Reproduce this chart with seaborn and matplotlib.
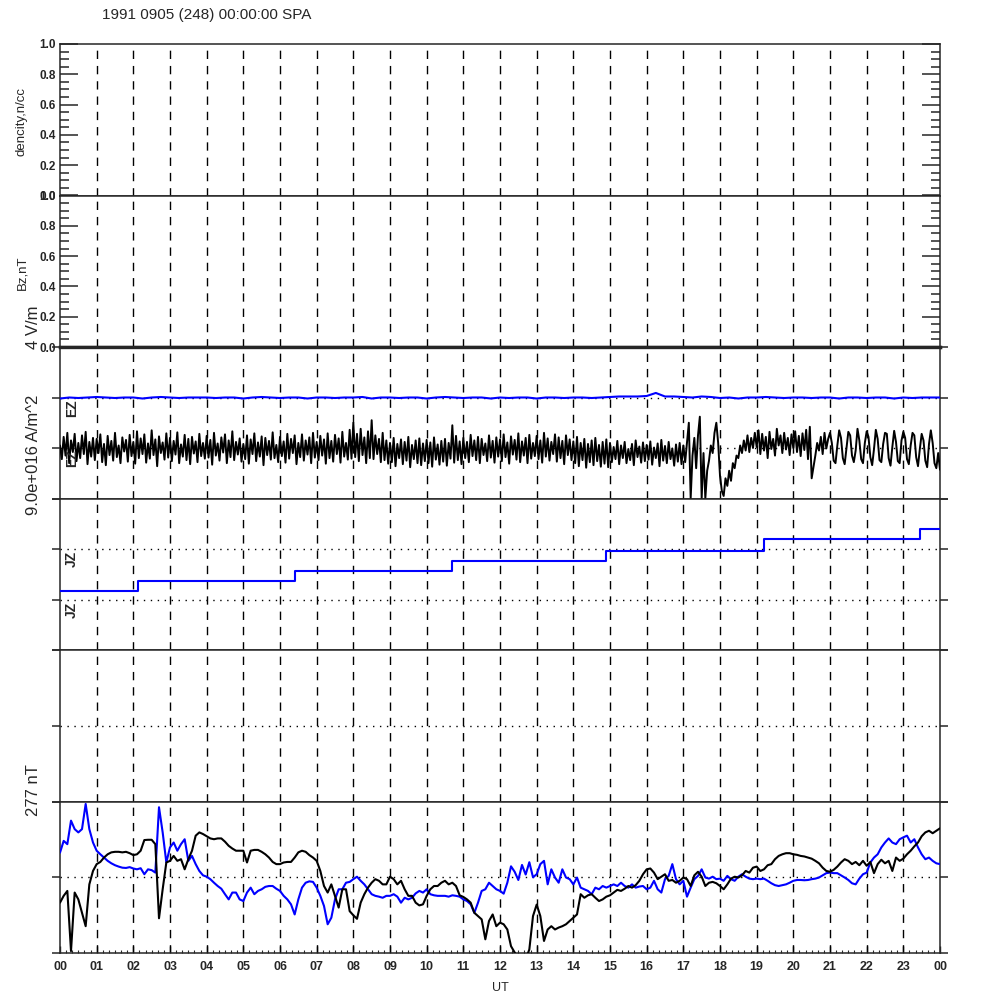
import numpy as np
import pandas as pd
import seaborn as sns
import matplotlib.pyplot as plt
from matplotlib.ticker import MultipleLocator

# ---- data ----
title = '1991 0905 (248) 00:00:00 SPA'
hour_labels = ['00', '01', '02', '03', '04', '05', '06', '07', '08', '09', '10', '11',
               '12', '13', '14', '15', '16', '17', '18', '19', '20', '21', '22', '23', '00']

# EZ black trace, 3 min samples, one row per hour (panel units, centre line = 1)
ez_black = [
    1.05, 0.78, 1.22, 0.85, 1.30, 0.70, 1.15, 0.92, 1.28, 0.74, 1.10, 0.80, 1.25, 0.88, 1.32, 0.68, 1.12, 0.83, 1.20, 0.76,
    1.18, 0.90, 1.27, 0.72, 1.08, 0.66, 1.24, 0.86, 1.14, 0.75, 1.30, 0.82, 1.05, 0.70, 1.21, 0.93, 1.16, 0.73, 1.26, 0.84,
    1.12, 0.69, 1.33, 0.80, 1.19, 0.88, 1.27, 0.71, 1.09, 0.79, 1.35, 0.86, 1.17, 0.64, 1.23, 0.90, 1.11, 0.77, 1.29, 0.81,
    1.20, 0.74, 1.14, 0.87, 1.31, 0.70, 1.07, 0.83, 1.26, 0.76, 1.18, 0.68, 1.22, 0.89, 1.13, 0.72, 1.28, 0.84, 1.10, 0.79,
    1.24, 0.81, 1.16, 0.67, 1.30, 0.85, 1.09, 0.75, 1.21, 0.91, 1.27, 0.70, 1.15, 0.82, 1.33, 0.76, 1.12, 0.87, 1.19, 0.73,
    1.08, 0.78, 1.25, 0.69, 1.17, 0.88, 1.29, 0.74, 1.11, 0.83, 1.23, 0.66, 1.20, 0.86, 1.14, 0.77, 1.31, 0.80, 1.06, 0.72,
    1.22, 0.84, 1.13, 0.71, 1.28, 0.79, 1.18, 0.90, 1.25, 0.68, 1.10, 0.82, 1.27, 0.75, 1.15, 0.87, 1.21, 0.70, 1.30, 0.81,
    1.12, 0.76, 1.24, 0.85, 1.17, 0.69, 1.29, 0.80, 1.14, 0.73, 1.26, 0.88, 1.19, 0.71, 1.32, 0.83, 1.10, 0.77, 1.36, 0.79,
    1.50, 0.82, 1.28, 0.74, 1.38, 0.86, 1.21, 0.70, 1.33, 0.80, 1.55, 0.78, 1.25, 0.88, 1.18, 0.72, 1.30, 0.76, 1.15, 0.69,
    1.10, 0.72, 1.20, 0.64, 1.08, 0.80, 1.17, 0.68, 1.12, 0.75, 1.22, 0.62, 1.06, 0.78, 1.15, 0.70, 1.19, 0.66, 1.09, 0.74,
    1.16, 0.70, 1.11, 0.63, 1.21, 0.77, 1.07, 0.67, 1.14, 0.73, 1.18, 0.65, 1.10, 0.79, 1.45, 0.71, 1.24, 0.76, 1.13, 0.68,
    1.20, 0.80, 1.12, 0.72, 1.26, 0.84, 1.15, 0.76, 1.22, 0.70, 1.18, 0.86, 1.09, 0.74, 1.25, 0.81, 1.14, 0.71, 1.21, 0.83,
    1.17, 0.74, 1.27, 0.82, 1.11, 0.69, 1.23, 0.87, 1.16, 0.77, 1.29, 0.72, 1.13, 0.85, 1.20, 0.70, 1.26, 0.79, 1.10, 0.84,
    1.24, 0.78, 1.15, 0.71, 1.30, 0.83, 1.19, 0.75, 1.12, 0.88, 1.27, 0.73, 1.21, 0.80, 1.14, 0.68, 1.25, 0.86, 1.17, 0.76,
    1.13, 0.70, 1.22, 0.64, 1.10, 0.76, 1.18, 0.61, 1.08, 0.72, 1.15, 0.66, 1.20, 0.74, 1.06, 0.63, 1.12, 0.69, 1.17, 0.62,
    1.10, 0.72, 1.02, 0.78, 1.14, 0.68, 1.05, 0.80, 1.12, 0.70, 0.98, 0.76, 1.08, 0.66, 1.15, 0.82, 1.03, 0.71, 1.11, 0.74,
    1.06, 0.77, 1.13, 0.67, 1.01, 0.80, 1.09, 0.64, 1.16, 0.75, 1.04, 0.70, 1.12, 0.78, 0.99, 0.65, 1.07, 0.73, 1.10, 0.68,
    1.05, 0.72, 1.12, 1.50, 0.00, 0.85, 1.20, 0.60, 1.25, 1.62, 0.00, 0.90, 0.00, 0.55, 0.75, 1.05, 0.90, 1.30, 1.50, 1.10,
    0.45, 0.15, 0.05, 0.40, 0.25, 0.55, 0.35, 0.70, 0.60, 0.85, 0.80, 1.05, 0.90, 1.15, 0.95, 1.25, 0.92, 1.20, 1.00, 1.30,
    1.02, 1.35, 0.88, 1.28, 0.95, 1.22, 0.80, 1.32, 0.98, 1.18, 0.85, 1.38, 1.05, 1.25, 0.90, 1.30, 0.97, 1.20, 0.86, 1.27,
    1.00, 1.33, 0.92, 1.24, 0.84, 1.29, 0.96, 1.36, 0.78, 1.42, 0.40, 0.62, 0.85, 1.10, 0.95, 1.22, 0.88, 1.30, 0.99, 1.18,
    1.30, 1.10, 0.75, 0.70, 1.05, 1.35, 1.20, 0.80, 0.68, 1.00, 1.32, 1.25, 0.85, 0.72, 0.95, 1.38, 1.15, 0.78, 0.70, 1.10,
    1.33, 1.22, 0.82, 0.66, 0.98, 1.36, 1.18, 0.76, 0.72, 1.08, 1.30, 1.28, 0.80, 0.65, 1.02, 1.34, 1.12, 0.74, 0.70, 1.15,
    1.32, 1.20, 0.78, 0.68, 1.05, 1.30, 1.25, 0.82, 0.64, 0.98, 1.28, 1.15, 0.75, 0.62, 1.08, 1.35, 1.10, 0.70, 0.60, 0.90,
    0.57]

# EZ blue trace, 15 min samples (centre line = 2)
ez_blue = [
    1.98, 2.00, 1.99, 2.00, 2.01, 2.00, 1.99, 2.00, 2.00, 1.98, 2.00, 2.01, 2.00, 1.99, 2.00, 2.00,
    2.00, 1.99, 2.00, 2.00, 1.98, 2.00, 2.01, 2.00, 1.99, 2.00, 2.00, 1.98, 2.00, 2.00, 1.99, 2.00,
    2.00, 2.01, 1.98, 2.00, 2.00, 1.99, 2.00, 2.00, 1.98, 2.00, 2.01, 2.00, 1.99, 2.00, 2.00, 1.98,
    2.00, 1.99, 2.00, 2.00, 1.98, 2.00, 2.00, 1.99, 2.00, 2.00, 1.99, 2.00, 2.01, 2.02, 2.02, 2.02,
    2.03, 2.09, 2.02, 2.02, 2.01, 2.00, 2.02, 2.01, 1.99, 2.00, 1.98, 2.00, 2.00, 2.01, 2.00, 1.99,
    2.00, 2.00, 1.99, 2.00, 2.00, 1.98, 2.00, 2.00, 1.99, 2.00, 2.00, 1.98, 2.00, 1.99, 2.00, 2.00,
    2.00]

# JZ blue staircase
jz_step_t = [0.0, 2.13, 6.4, 10.7, 14.9, 19.2, 23.45, 24.0]
jz_step_v = [1.16, 1.36, 1.57, 1.77, 1.97, 2.19, 2.39, 2.39]

# magnetic field traces, 6 min samples, nT, one row per hour
b_black = [
    -93, -68, -50, -270, -56, -81, -130, -179, -26, 23,
    48, 56, 72, 84, 91, 93, 93, 91, 93, 88,
    81, 84, 97, 136, 137, 137, 121, -150, -44, 54,
    60, 78, 60, 66, 29, 66, 97, 152, 164, 158,
    150, 142, 139, 142, 142, 130, 115, 105, 97, 97,
    97, 54, 97, 100, 100, 93, 84, 72, 56, 48,
    48, 54, 56, 56, 72, 91, 97, 93, 81, 72,
    60, 23, -32, -56, -26, -68, -111, -44, -44, -124,
    -139, -152, -93, -62, -38, -20, -7, -13, -26, -26,
    2, -7, -26, -13, -44, -68, -68, -93, -103, -99,
    -68, -44, -32, -32, -20, -13, -26, -20, -32, -66,
    -72, -81, -93, -130, -142, -154, -227, -160, -136, -179,
    -166, -172, -191, -252, -275, -300, -300, -300, -264, -142,
    -100, -142, -233, -191, -179, -191, -184, -179, -172, -160,
    -148, -136, -62, -75, -66, -62, -75, -87, -81, -71,
    -66, -56, -46, -50, -42, -32, -38, -29, -13, 11,
    29, 32, 17, -7, 2, 11, -13, -10, -20, -13,
    -1, -7, -32, 7, 20, 2, -32, -20, -17, -22,
    -32, -44, -26, -5, 2, -1, 7, 23, 17, 35,
    39, 23, 29, 44, 48, 66, 78, 84, 88, 88,
    84, 82, 78, 76, 72, 68, 60, 51, 35, 23,
    20, 27, 39, 54, 66, 60, 48, 56, 44, 60,
    42, 56, 15, 48, 64, 51, 60, 23, 72, 60,
    68, 84, 97, 113, 127, 150, 164, 170, 161, 170,
    179]

b_blue = [
    90, 133, 121, 207, 176, 164, 176, 268, 176, 127,
    97, 84, 72, 60, 51, 44, 39, 35, 34, 37,
    32, 29, 33, 11, 29, 26, 17, 256, 164, 54,
    109, 127, 97, 121, 139, 60, 78, 48, 23, 7,
    2, -7, -20, -32, -42, -62, -81, -56, -56, -81,
    -87, -56, -38, -62, -50, -44, -35, -32, -32, -42,
    -50, -68, -81, -99, -136, -81, -38, -20, -15, -17,
    -38, -68, -105, -172, -148, -81, -44, -44, -20, -17,
    -7, 2, -13, -26, -44, -62, -68, -71, -75, -68,
    -68, -62, -71, -93, -75, -81, -75, -59, -50, -56,
    -44, -62, -66, -68, -68, -68, -71, -66, -68, -71,
    -81, -87, -99, -130, -93, -50, -44, -20, -32, -44,
    -50, -60, -20, 40, 20, -10, 45, 10, 55, 0,
    11, 48, 60, -26, 29, -1, -20, 29, -1, -7,
    -26, -1, -38, -44, -50, -62, -38, -44, -32, -38,
    -32, -26, -32, -20, -32, -38, -26, -38, -34, -32,
    -44, -38, -13, -44, -56, -7, 5, 48, -7, -26,
    -13, -71, -38, -7, 5, 29, -1, -5, 2, -7,
    -5, -13, 5, -7, -13, 2, 11, 2, -5, -7,
    -5, -7, -5, -13, -22, -29, -32, -29, -26, -20,
    -13, -10, -10, -11, -10, -7, -5, -1, 7, 15,
    17, 15, 15, 7, -1, -10, -22, -26, -5, 11,
    17, 54, 72, 84, 109, 127, 142, 127, 121, 139,
    146, 152, 127, 139, 109, 84, 66, 72, 60, 51,
    48]

b_scale = 277  # nT per half panel

# ---- plotting ----
sns.set_style("ticks")
plt.rcParams['font.family'] = ['Liberation Sans', 'DejaVu Sans']

t_ez = np.linspace(0, 24, len(ez_black))
t_ezb = np.linspace(0, 24, len(ez_blue))
t_b = np.linspace(0, 24, len(b_black))

fig, axes = plt.subplots(6, 1, figsize=(10, 10), dpi=100, sharex=True,
                         gridspec_kw={'hspace': 0})
fig.subplots_adjust(left=0.06, right=0.94, top=0.956, bottom=0.047)
ax_n, ax_bz, ax_ez, ax_jz, ax_b1, ax_b2 = axes

dash = (0, (6, 5))
dots = (0, (1, 4))
hours = np.arange(1, 24)

for ax in axes:
    ax.set_xlim(0, 24)
    for h in hours:
        ax.axvline(h, color='black', lw=1.0, ls=dash, zorder=1)
    for s in ax.spines.values():
        s.set_linewidth(1.1)
    ax.tick_params(axis='x', bottom=False, top=False, labelbottom=False)

# top two empty panels
for ax in (ax_n, ax_bz):
    ax.set_ylim(0, 1)
    ax.yaxis.set_major_locator(MultipleLocator(0.2))
    ax.yaxis.set_minor_locator(MultipleLocator(0.05))
    ax.yaxis.set_major_formatter(plt.FormatStrFormatter('%.1f'))
    ax.tick_params(axis='y', which='major', direction='in', length=13, width=1.1,
                   left=True, right=True, labelsize=8.5, pad=3)
    ax.tick_params(axis='y', which='minor', direction='in', length=6.5, width=1.1,
                   left=True, right=True)
    for lab in ax.get_yticklabels():
        lab.set_fontweight('bold')
ax_bz.spines['bottom'].set_linewidth(2.4)
ax_ez.spines['top'].set_linewidth(2.4)

# EZ panel
sns.lineplot(x=t_ezb, y=ez_blue, ax=ax_ez, color='blue', lw=1.5, zorder=3)
sns.lineplot(x=t_ez, y=ez_black, ax=ax_ez, color='black', lw=1.4, zorder=4)
ax_ez.set_ylim(0, 3)
for y in (1, 2):
    ax_ez.axhline(y, color='black', lw=1.0, ls=dots, zorder=2)

# JZ panel
sns.lineplot(x=jz_step_t, y=jz_step_v, ax=ax_jz, color='blue', lw=1.5,
             drawstyle='steps-post', zorder=3)
ax_jz.set_ylim(0, 3)
for y in (1, 2):
    ax_jz.axhline(y, color='black', lw=1.0, ls=dots, zorder=2)

# magnetic field panels
for ax in (ax_b1, ax_b2):
    ax.set_ylim(-b_scale, b_scale)
    ax.axhline(0, color='black', lw=1.0, ls=dots, zorder=2)
sns.lineplot(x=t_b, y=b_black, ax=ax_b2, color='black', lw=1.5, zorder=4)
sns.lineplot(x=t_b, y=b_blue, ax=ax_b2, color='blue', lw=1.5, zorder=3)

for ax in (ax_ez, ax_jz):
    ax.set_yticks([0, 1, 2, 3])
for ax in (ax_b1, ax_b2):
    ax.set_yticks([-b_scale, 0, b_scale])
for ax in (ax_ez, ax_jz, ax_b1, ax_b2):
    ax.tick_params(axis='y', direction='out', length=6, width=1.1,
                   left=True, right=True, labelleft=False)

for ax in axes:
    ax.set_xlabel('')
    ax.set_ylabel('')

# time axis on the bottom panel
ax_b2.set_xticks(np.arange(0, 25))
ax_b2.set_xticklabels(hour_labels)
ax_b2.xaxis.set_minor_locator(MultipleLocator(1 / 6))
ax_b2.tick_params(axis='x', which='major', direction='in', bottom=True, top=False,
                  labelbottom=True, length=5, width=1.0, labelsize=9, pad=6)
ax_b2.tick_params(axis='x', which='minor', direction='in', bottom=True, top=False,
                  length=2.5, width=0.8)
for lab in ax_b2.get_xticklabels():
    lab.set_fontweight('bold')

# texts
fig.text(0.102, 0.985, title, fontsize=11, ha='left', va='center')
fig.text(0.022, 0.879, 'dencity,n/cc', rotation=90, fontsize=9.5, ha='center', va='center')
fig.text(0.022, 0.727, 'Bz,nT', rotation=90, fontsize=9.5, ha='center', va='center')
fig.text(0.034, 0.673, '4 V/m', rotation=90, fontsize=12, ha='center', va='center')
fig.text(0.034, 0.545, '9.0e+016 A/m^2', rotation=90, fontsize=12, ha='center', va='center')
fig.text(0.034, 0.210, '277 nT', rotation=90, fontsize=12, ha='center', va='center')
for y, s in ((0.601, 'EZ'), (0.551, 'EZ'), (0.449, 'JZ'), (0.398, 'JZ')):
    fig.text(0.072, y, s, rotation=90, fontsize=10, fontweight='bold', ha='center', va='top')
fig.text(0.50, 0.012, 'UT', fontsize=9, ha='center', va='center')

fig.savefig('out.png', dpi=100, facecolor='white')
